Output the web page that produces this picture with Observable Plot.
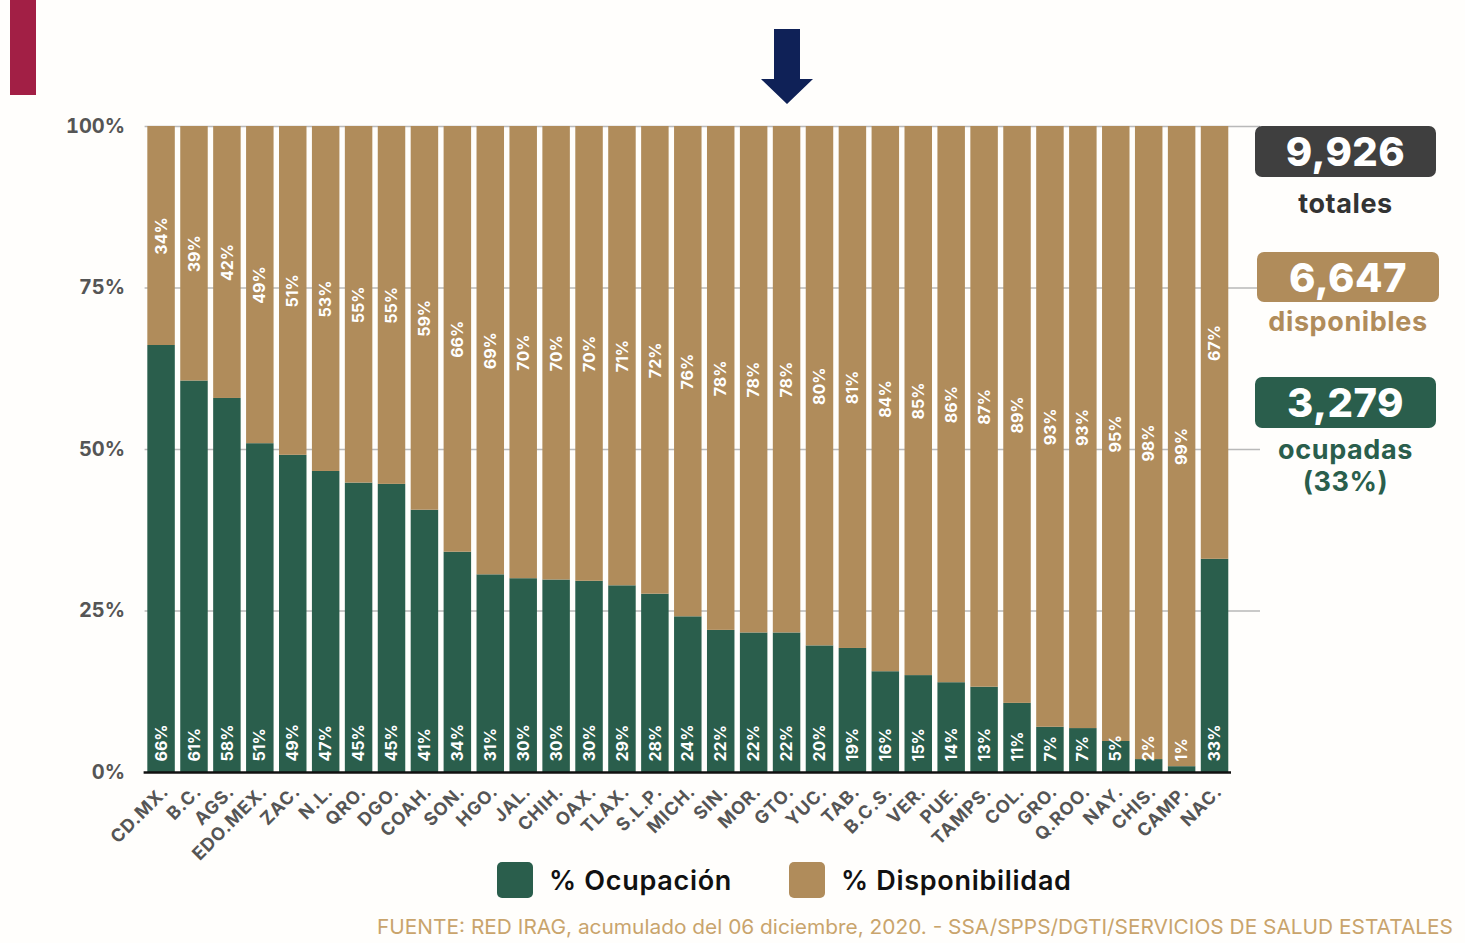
<!DOCTYPE html>
<html>
<head>
<meta charset="utf-8">
<script src="https://cdn.jsdelivr.net/npm/d3@7"></script>
<script src="https://cdn.jsdelivr.net/npm/@observablehq/plot@0.6"></script>
<style>
  html, body { margin: 0; padding: 0; background: #ffffff; }
  #wrap { position: relative; width: 1465px; height: 943px; overflow: hidden; font-family: Inter, "Open Sans", sans-serif; background: #fffefc; }
  #chart { position: absolute; left: 0; top: 0; }
  #chart g[aria-label="x-axis tick label"] text { letter-spacing: 0.9px; }
  .abs { position: absolute; }
  .box { position: absolute; border-radius: 7px; color: #fff; font-weight: 800; font-size: 40px; text-align: center; line-height: 51px; letter-spacing: 0.5px; }
  .cap { position: absolute; text-align: center; font-weight: 700; font-size: 27px; line-height: 32px; letter-spacing: 0.6px; }
  .leg { position: absolute; display: flex; align-items: center; font-weight: 600; font-size: 27px; color: #111; letter-spacing: 0.7px; }
  .sw { width: 36px; height: 36px; border-radius: 5px; margin-right: 16px; }
</style>
</head>
<body>
<div id="wrap">
  <div class="abs" style="left:10px;top:0;width:26px;height:95px;background:#a21f45;"></div>
  <svg class="abs" style="left:0;top:0" width="1465" height="120">
    <polygon points="774,29 800,29 800,79 813,79 787,104 761,79 774,79" fill="#0f2157"/>
  </svg>
  <div id="chart"></div>

  <div class="box" style="left:1255px;top:126px;width:181px;height:51px;background:#3f3f3f;">9,926</div>
  <div class="cap" style="left:1255px;top:188px;width:181px;color:#333;">totales</div>
  <div class="box" style="left:1257px;top:252px;width:182px;height:50px;background:#b08c5b;">6,647</div>
  <div class="cap" style="left:1257px;top:306px;width:182px;color:#b08c5b;">disponibles</div>
  <div class="box" style="left:1255px;top:377px;width:181px;height:51px;background:#2a5e4c;">3,279</div>
  <div class="cap" style="left:1255px;top:434px;width:181px;color:#2a5e4c;">ocupadas<br>(33%)</div>

  <div class="leg" style="left:497px;top:862px;"><div class="sw" style="background:#2a5e4c"></div>% Ocupación</div>
  <div class="leg" style="left:789px;top:862px;"><div class="sw" style="background:#b08c5b"></div>% Disponibilidad</div>

  <svg class="abs" style="left:0;top:905px" width="1465" height="38">
    <text id="src" x="377" y="29" font-size="20" fill="#c9a46c" font-family="Inter, sans-serif" textLength="1076" lengthAdjust="spacingAndGlyphs">FUENTE: RED IRAG, acumulado del 06 diciembre, 2020. -  SSA/SPPS/DGTI/SERVICIOS DE SALUD ESTATALES</text>
  </svg>
</div>
<script>
const estados = ["CD.MX.","B.C.","AGS.","EDO.MEX.","ZAC.","N.L.","QRO.","DGO.","COAH.","SON.","HGO.","JAL.","CHIH.","OAX.","TLAX.","S.L.P.","MICH.","SIN.","MOR.","GTO.","YUC.","TAB.","B.C.S.","VER.","PUE.","TAMPS.","COL.","GRO.","Q.ROO.","NAY.","CHIS.","CAMP.","NAC."];
const ocupacion = [66.1,60.6,57.9,50.9,49.1,46.6,44.8,44.6,40.6,34.1,30.6,30.0,29.8,29.6,28.9,27.6,24.1,22.0,21.6,21.6,19.6,19.2,15.6,15.0,13.9,13.2,10.7,7.0,6.8,4.8,2.0,0.9,33.0];
const yTicks = [0,25,50,75,100];

const green = "#2a5e4c", tan = "#b08c5b";
const data = estados.map((e, i) => {
  const occ = ocupacion[i];
  const lo = Math.round(occ);
  return {estado: e, occ, occLabel: lo + "%", disLabel: (100 - lo) + "%", disMid: (occ + 100) / 2};
});

const chart = Plot.plot({
  width: 1465,
  height: 905,
  marginTop: 126,
  marginBottom: 133,
  marginLeft: 144.6,
  marginRight: 205,
  style: {fontFamily: "Inter, sans-serif", background: "transparent", overflow: "visible"},
  x: {type: "band", domain: estados, range: [144.6, 1231], paddingInner: 0.165, paddingOuter: 0.0825},
  y: {domain: [0, 100]},
  marks: [
    Plot.ruleY(yTicks.filter(d => d > 0), {stroke: "#b9b9b9", strokeWidth: 1.3}),
    Plot.barY(data, {x: "estado", y1: 0, y2: "occ", fill: green}),
    Plot.barY(data, {x: "estado", y1: "occ", y2: 100, fill: tan}),
    Plot.text(data, {x: "estado", y: 0, text: "occLabel", rotate: -90, textAnchor: "start", dy: -11, fill: "white", fontSize: 16, fontWeight: 700}),
    Plot.text(data, {x: "estado", y: "disMid", text: "disLabel", rotate: -90, textAnchor: "middle", fill: "white", fontSize: 16, fontWeight: 700}),
    Plot.ruleY([0], {stroke: "#111", strokeWidth: 2.6, insetRight: 29, insetLeft: -1}),
    Plot.axisY({ticks: yTicks, tickFormat: d => d + "%", tickSize: 0, tickPadding: 20, fontSize: 20, fontWeight: 700, fill: "#555", label: null}),
    Plot.axisX({tickRotate: -45, tickSize: 0, tickPadding: 16, dx: 4, fontSize: 18, fontWeight: 700, fill: "#555", label: null})
  ]
});
document.getElementById("chart").appendChild(chart);
</script>
</body>
</html>
